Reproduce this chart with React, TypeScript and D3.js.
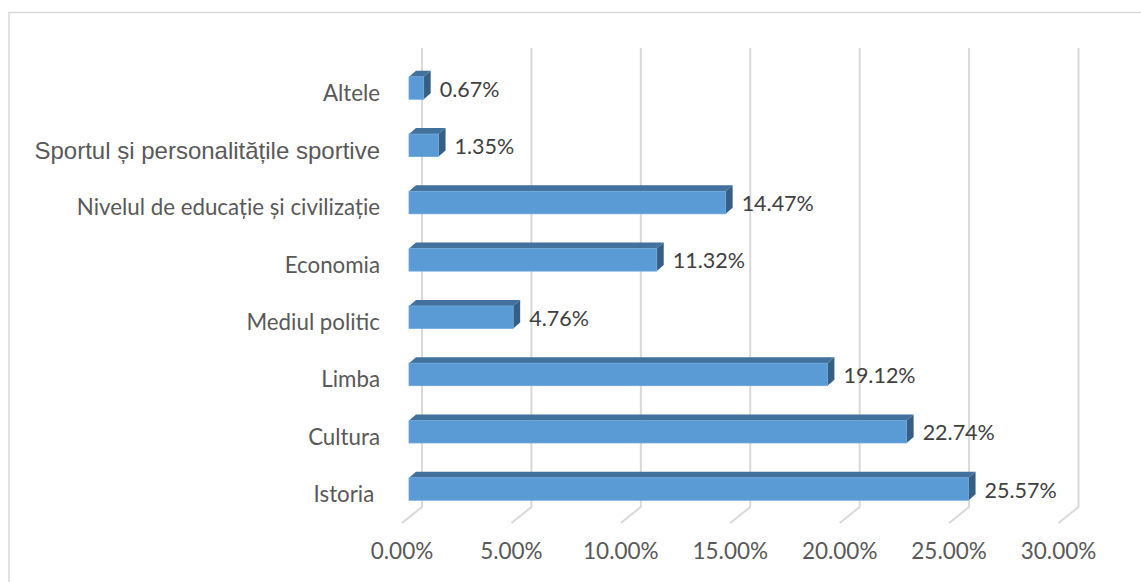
import React from "react";
import * as d3 from "d3";

const categories = [
  "Istoria ",
  "Cultura",
  "Limba",
  "Mediul politic",
  "Economia",
  "Nivelul de educație și civilizație",
  "Sportul și personalitățile sportive",
  "Altele",
];
const values = [0.2557, 0.2274, 0.1912, 0.0476, 0.1132, 0.1447, 0.0135, 0.0067];
const ticks = [0, 0.05, 0.1, 0.15, 0.2, 0.25, 0.3];

const W = 1141;
const H = 582;

export default function App() {
  const x = d3.scaleLinear().domain([0, 0.3]).range([422, 1078.5]);
  const y = d3
    .scalePoint<string>()
    .domain([...categories].reverse())
    .range([88, 489]);
  const fmt = d3.format(".2%");

  const frontShift = -13;
  const dx = 7;
  const dy = -6;
  const barH = 22.5;
  const gridTop = 48;
  const gridBottom = 507;
  const floorDx = -20;
  const floorDy = 16;

  const calibri = "Lato, 'Open Sans', sans-serif";

  return (
    <svg
      width={W}
      height={H}
      style={{ position: "absolute", left: 0, top: 0, background: "#fff" }}
    >
      <rect x={9} y={12.5} width={1200} height={700} fill="#fff" stroke="#d9d9d9" strokeWidth={1.5} />
      {ticks.map((t, i) => (
        <g key={"g" + i}>
          <polyline
            points={`${x(t)},${gridTop} ${x(t)},${gridBottom} ${x(t) + floorDx},${gridBottom + floorDy}`}
            fill="none"
            stroke="#d9d9d9"
            strokeWidth={2}
          />
          <text
            x={x(t) + floorDx}
            y={559}
            textAnchor="middle"
            fontFamily={calibri}
            fontSize={22.5}
            fill="#595959"
          >
            {fmt(t)}
          </text>
        </g>
      ))}
      {categories.map((c, i) => {
        const v = values[i];
        const cy = y(c) as number;
        const x0 = x(0) + frontShift;
        const x1 = x(v) + frontShift;
        const yt = cy - barH / 2;
        const yb = cy + barH / 2;
        const isSport = c.startsWith("Sportul");
        return (
          <g key={c}>
            <polygon
              points={`${x0},${yt} ${x0 + dx},${yt + dy} ${x1 + dx},${yt + dy} ${x1},${yt}`}
              fill="#41719c"
            />
            <polygon
              points={`${x1},${yt} ${x1 + dx},${yt + dy} ${x1 + dx},${yb + dy} ${x1},${yb}`}
              fill="#375f84"
            />
            <rect x={x0} y={yt} width={x1 - x0} height={barH} fill="#5b9bd5" stroke="#6aa6dc" strokeWidth={0.8} />
            <text
              x={x1 + 16}
              y={cy + 1}
              dy="0.35em"
              fontFamily={calibri}
              fontSize={21.5}
              fill="#404040"
            >
              {fmt(v)}
            </text>
            <text
              x={380}
              y={cy + 5}
              dy="0.35em"
              textAnchor="end"
              fontFamily={isSport ? "Arial, 'Liberation Sans', sans-serif" : calibri}
              fontSize={isSport ? 24 : 22.3}
              fill="#595959"
              style={{ whiteSpace: "pre" }}
            >
              {c}
            </text>
          </g>
        );
      })}
    </svg>
  );
}
